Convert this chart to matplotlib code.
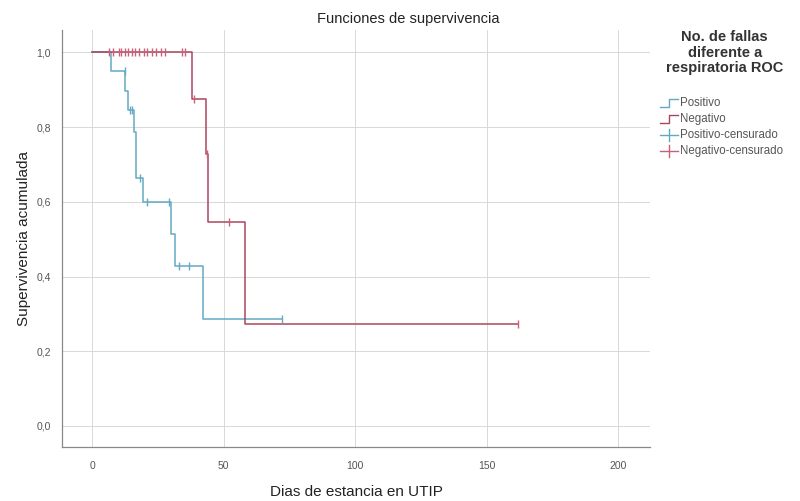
import numpy as np
import matplotlib
matplotlib.use("Agg")
import matplotlib.pyplot as plt
from matplotlib.lines import Line2D

plt.rcParams['font.family'] = ['Liberation Sans', 'DejaVu Sans']

# Kaplan-Meier steps
pos_times = [0, 7, 12.5, 13.4, 15.7, 16.7, 19.2, 29.8, 31.5, 42]
pos_surv = [1.0, 0.95, 0.898, 0.847, 0.787, 0.665, 0.600, 0.515, 0.428, 0.287]
pos_end = 72
pos_cens_t = [12.3, 14.4, 15.1, 18.0, 20.8, 29.3, 32.8, 36.9, 72]

neg_times = [0, 38, 43.2, 44, 58]
neg_surv = [1.0, 0.875, 0.729, 0.547, 0.273]
neg_end = 162
neg_cens_t = [6.5, 7.7, 10, 11, 12.3, 13.5, 15, 16.3, 17.6, 19.5, 20.8, 22.6,
              24.2, 26.2, 27.7, 34, 35.3, 38.5, 43.5, 52, 162]

x_ticks = [0, 50, 100, 150, 200]
y_ticks = [0.0, 0.2, 0.4, 0.6, 0.8, 1.0]

blue = '#62aac4'
red = '#a9465e'
red_cens = '#c9607a'


def step_at(times, surv, t):
    idx = np.searchsorted(times, t, side='right') - 1
    return np.asarray(surv)[idx]


fig = plt.figure(figsize=(8, 5.01), dpi=100)
ax = fig.add_axes([0.0775, 0.108, 0.735, 0.832])

# curves
ax.step(pos_times + [pos_end], pos_surv + [pos_surv[-1]], where='post',
        color=blue, lw=1.1, zorder=3)
ax.step(neg_times + [neg_end], neg_surv + [neg_surv[-1]], where='post',
        color=red, lw=1.1, zorder=4)

# censored marks
ax.plot(pos_cens_t, step_at(pos_times, pos_surv, pos_cens_t), ls='none',
        marker='|', ms=6, mew=1.0, color=blue, zorder=5)
ax.plot(neg_cens_t, step_at(neg_times, neg_surv, neg_cens_t), ls='none',
        marker='|', ms=6, mew=1.0, color=red_cens, zorder=6)

ax.set_xlim(-11.5, 212)
ax.set_ylim(-0.056, 1.06)
ax.set_xticks(x_ticks)
ax.set_yticks(y_ticks)
ax.set_xticklabels([str(v) for v in x_ticks])
ax.set_yticklabels([f'{v:.1f}'.replace('.', ',') for v in y_ticks])
ax.tick_params(length=0, labelsize=7.5, labelcolor='#555555', pad=10)
ax.tick_params(axis='y', pad=8)

ax.grid(True, color='#d8d8d8', lw=0.7)
ax.set_axisbelow(True)
for s in ['top', 'right']:
    ax.spines[s].set_visible(False)
for s in ['left', 'bottom']:
    ax.spines[s].set_color('#888888')
    ax.spines[s].set_linewidth(0.9)

ax.set_xlabel('Dias de estancia en UTIP', fontsize=11, color='#222222', labelpad=10)
ax.set_ylabel('Supervivencia acumulada', fontsize=11, color='#222222', labelpad=4)
fig.text(0.51, 0.962, 'Funciones de supervivencia', ha='center', va='center',
         fontsize=10.5, color='#222222')

# legend drawn by hand
fig.text(0.906, 0.895, 'No. de fallas\ndiferente a\nrespiratoria ROC', ha='center',
         va='center', fontsize=10.5, fontweight='bold', color='#333333',
         linespacing=1.12)

W, H = 800, 501
labels = ['Positivo', 'Negativo', 'Positivo-censurado', 'Negativo-censurado']
ys = [103, 119, 135, 151]
cols = [blue, red, blue, red_cens]
for i, (lab, yp, c) in enumerate(zip(labels, ys, cols)):
    if i < 2:
        xs = np.array([660, 669, 669, 678])
        yy = np.array([yp + 4, yp + 4, yp - 4, yp - 4])
        fig.add_artist(Line2D(xs / W, 1 - yy / H, color=c, lw=1.0))
    else:
        fig.add_artist(Line2D(np.array([660, 678]) / W, 1 - np.array([yp, yp]) / H,
                              color=c, lw=1.0))
        fig.add_artist(Line2D(np.array([669, 669]) / W,
                              1 - np.array([yp - 6, yp + 6]) / H, color=c, lw=1.0))
    fig.text(680 / W, 1 - yp / H, lab, ha='left', va='center', fontsize=8.3,
             color='#555555')

fig.savefig('out.png', dpi=100)
